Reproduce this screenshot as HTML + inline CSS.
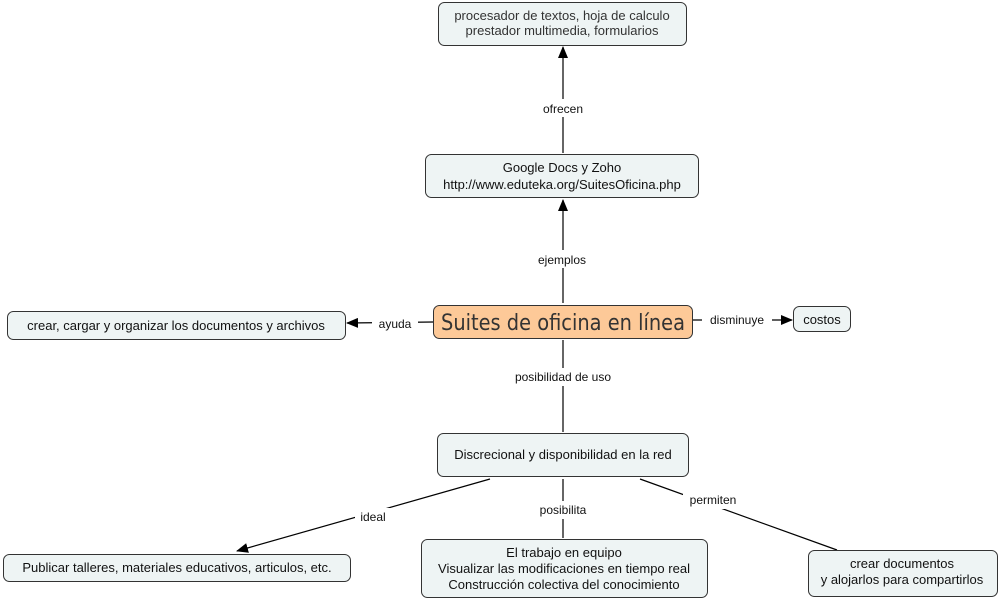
<!DOCTYPE html>
<html><head><meta charset="utf-8"><style>
html,body{margin:0;padding:0;background:#fff;width:1000px;height:600px;overflow:hidden}
text{font-family:"Liberation Sans",sans-serif;font-size:13px;fill:#111}
</style></head><body>
<svg width="1000" height="600" viewBox="0 0 1000 600" xmlns="http://www.w3.org/2000/svg">
<defs><marker id="a" markerWidth="12" markerHeight="10" refX="11" refY="5" orient="auto" markerUnits="userSpaceOnUse"><path d="M0,0 L12,5 L0,10 z" fill="#000"/></marker></defs>
<g stroke="#000" stroke-width="1.2" fill="none">
<line x1="563" y1="153" x2="563" y2="47" marker-end="url(#a)"/>
<line x1="563" y1="303" x2="563" y2="200" marker-end="url(#a)"/>
<line x1="433" y1="322" x2="347" y2="323" marker-end="url(#a)"/>
<line x1="692" y1="320" x2="792" y2="320" marker-end="url(#a)"/>
<line x1="563" y1="340" x2="563" y2="432"/>
<line x1="490" y1="479" x2="237" y2="551" marker-end="url(#a)"/>
<line x1="563" y1="479" x2="563" y2="538"/>
<line x1="640" y1="479" x2="837" y2="550"/>
</g>
<g font-size="12">
<rect x="530" y="99" width="66" height="18" fill="#fff"/><text x="563" y="113" text-anchor="middle" style="font-size:12px">ofrecen</text>
<rect x="528" y="250" width="70" height="18" fill="#fff"/><text x="562" y="264" text-anchor="middle" style="font-size:12px">ejemplos</text>
<rect x="372" y="315" width="46" height="17" fill="#fff"/><text x="395" y="328" text-anchor="middle" style="font-size:12px">ayuda</text>
<rect x="702" y="311" width="70" height="17" fill="#fff"/><text x="737" y="324" text-anchor="middle" style="font-size:12px">disminuye</text>
<rect x="503" y="368" width="120" height="18" fill="#fff"/><text x="563" y="381" text-anchor="middle" style="font-size:12px">posibilidad de uso</text>
<rect x="355" y="508" width="36" height="18" fill="#fff"/><text x="373" y="521" text-anchor="middle" style="font-size:12px">ideal</text>
<rect x="532" y="501" width="62" height="18" fill="#fff"/><text x="563" y="514" text-anchor="middle" style="font-size:12px">posibilita</text>
<rect x="683" y="491" width="60" height="18" fill="#fff"/><text x="713" y="504" text-anchor="middle" style="font-size:12px">permiten</text>
</g>
<g fill="#eef4f4" stroke="#333" stroke-width="1">
<rect x="438.5" y="2.5" width="248" height="43" rx="6"/>
<rect x="425.5" y="154.5" width="273" height="43" rx="6"/>
<rect x="7.5" y="311.5" width="338" height="28" rx="6"/>
<rect x="793.5" y="306.5" width="57" height="25" rx="6"/>
<rect x="437.5" y="433.5" width="251" height="43" rx="6"/>
<rect x="3.5" y="554.5" width="347" height="27" rx="6"/>
<rect x="421.5" y="539.5" width="286" height="58" rx="6"/>
<rect x="808.5" y="550.5" width="189" height="46" rx="6"/>
<rect x="433.5" y="305.5" width="259" height="33" rx="6" fill="#fdc998"/>
</g>
<text x="562" y="20" text-anchor="middle" style="fill:#333">procesador de textos, hoja de calculo</text>
<text x="562" y="35" text-anchor="middle" style="fill:#333">prestador multimedia, formularios</text>
<text x="562" y="172" text-anchor="middle">Google Docs y Zoho</text>
<text x="562" y="189" text-anchor="middle">http://www.eduteka.org/SuitesOficina.php</text>
<text x="563" y="330" text-anchor="middle" textLength="244" lengthAdjust="spacingAndGlyphs" style="font-size:22px;fill:#333;font-family:'DejaVu Sans',sans-serif">Suites de oficina en línea</text>
<text x="176" y="330" text-anchor="middle">crear, cargar y organizar los documentos y archivos</text>
<text x="822" y="324" text-anchor="middle">costos</text>
<text x="563" y="459" text-anchor="middle">Discrecional y disponibilidad en la red</text>
<text x="177" y="572" text-anchor="middle">Publicar talleres, materiales educativos, articulos, etc.</text>
<text x="564" y="557" text-anchor="middle">El trabajo en equipo</text>
<text x="564" y="573" text-anchor="middle">Visualizar las modificaciones en tiempo real</text>
<text x="564" y="589" text-anchor="middle">Construcción colectiva del conocimiento</text>
<text x="902" y="568" text-anchor="middle">crear documentos</text>
<text x="902" y="584" text-anchor="middle">y alojarlos para compartirlos</text>
</svg>
</body></html>
